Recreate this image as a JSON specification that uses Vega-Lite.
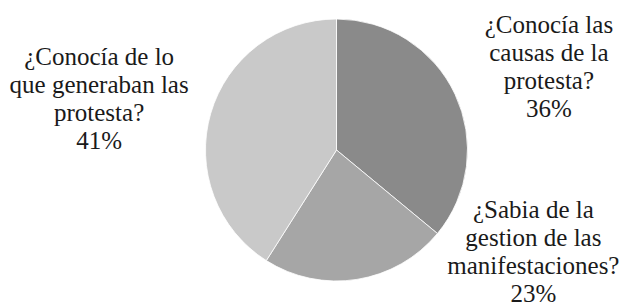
{
  "$schema": "https://vega.github.io/schema/vega-lite/v6.json",
  "width": 569,
  "height": 300,
  "autosize": {"type": "none"},
  "padding": {"left": 52, "top": 0, "right": 0, "bottom": 5},
  "background": "#ffffff",
  "config": {"view": {"stroke": null}, "text": {"font": "Liberation Serif"}},
  "data": {
    "values": [
      {"pregunta": "¿Conocía las causas de la protesta?", "valor": 36, "orden": 1, "etiqueta": "¿Conocía las\ncausas de la\nprotesta?\n36%"},
      {"pregunta": "¿Sabia  de la gestion de las manifestaciones?", "valor": 23, "orden": 2, "etiqueta": "¿Sabia  de la\ngestion de las\nmanifestaciones?\n23%"},
      {"pregunta": "¿Conocía de lo que generaban las protesta?", "valor": 41, "orden": 3, "etiqueta": "¿Conocía de lo\nque generaban las\nprotesta?\n41%"}
    ]
  },
  "layer": [
    {
      "mark": {"type": "arc", "radius": 131, "stroke": "#ffffff", "strokeWidth": 0.8},
      "encoding": {
        "theta": {"field": "valor", "type": "quantitative", "stack": true},
        "order": {"field": "orden", "type": "quantitative"},
        "color": {
          "field": "pregunta", "type": "nominal", "legend": null,
          "scale": {
            "domain": ["¿Conocía las causas de la protesta?", "¿Sabia  de la gestion de las manifestaciones?", "¿Conocía de lo que generaban las protesta?"],
            "range": ["#8a8a8a", "#a6a6a6", "#c9c9c9"]
          }
        }
      }
    },
    {
      "mark": {"type": "text", "radius": 227, "dx": 7, "dy": -28, "align": "center", "baseline": "middle", "lineBreak": "\n", "font": "Liberation Serif", "fontSize": 25, "lineHeight": 28, "color": "#1a1a1a"},
      "encoding": {
        "theta": {"field": "valor", "type": "quantitative", "stack": true},
        "order": {"field": "orden", "type": "quantitative"},
        "detail": {"field": "pregunta", "type": "nominal"},
        "text": {"field": "etiqueta", "type": "nominal", "condition": {"test": "datum.orden !== 1", "value": ""}}
      }
    },
    {
      "mark": {"type": "text", "radius": 140, "dx": 175, "dy": -78, "align": "center", "baseline": "middle", "lineBreak": "\n", "font": "Liberation Serif", "fontSize": 25, "lineHeight": 28, "color": "#1a1a1a"},
      "encoding": {
        "theta": {"field": "valor", "type": "quantitative", "stack": true},
        "order": {"field": "orden", "type": "quantitative"},
        "detail": {"field": "pregunta", "type": "nominal"},
        "text": {"field": "etiqueta", "type": "nominal", "condition": {"test": "datum.orden !== 2", "value": ""}}
      }
    },
    {
      "mark": {"type": "text", "radius": 242, "dx": -5, "dy": -25.5, "align": "center", "baseline": "middle", "lineBreak": "\n", "font": "Liberation Serif", "fontSize": 25, "lineHeight": 28, "color": "#1a1a1a"},
      "encoding": {
        "theta": {"field": "valor", "type": "quantitative", "stack": true},
        "order": {"field": "orden", "type": "quantitative"},
        "detail": {"field": "pregunta", "type": "nominal"},
        "text": {"field": "etiqueta", "type": "nominal", "condition": {"test": "datum.orden !== 3", "value": ""}}
      }
    }
  ]
}
